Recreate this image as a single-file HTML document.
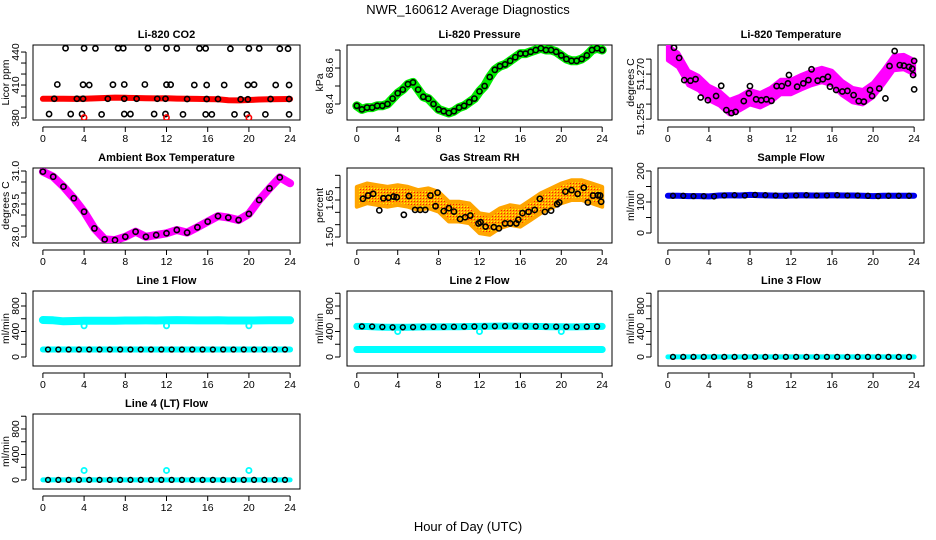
<!DOCTYPE html>
<html><head><meta charset="utf-8"><style>
body{margin:0;background:#fff}
svg{display:block;font-family:"Liberation Sans",sans-serif}
</style></head><body>
<svg id="chart" width="936" height="540" viewBox="0 0 936 540" xmlns="http://www.w3.org/2000/svg">
<defs>
<pattern id="rhpat" width="3" height="3" patternUnits="userSpaceOnUse"><rect width="3" height="3" fill="#ffa500"/><rect width="1" height="1" fill="#ff2000"/><rect x="2" y="2" width="1" height="1" fill="#ffff00"/></pattern>
</defs>
<text x="468" y="14" text-anchor="middle" font-size="13">NWR_160612  Average Diagnostics</text>
<text x="468" y="531" text-anchor="middle" font-size="13">Hour of Day (UTC)</text>
</svg>
<script>
const hours = [0,1,2,3,4,5,6,7,8,9,10,11,12,13,14,15,16,17,18,19,20,21,22,23,24];
const xTickLabels = ["0","4","8","12","16","20","24"];
// CO2
const co2Red = [397.5,397.6,397.5,397.4,397.6,397.8,398.2,398.6,398.4,398.2,398.0,397.8,397.9,397.7,397.5,397.4,397.2,397.0,396.2,396.0,396.4,396.8,397.0,397.2,397.3];
const co2BlackX = [2.2,4,5.1,7.3,7.8,10.2,12,13,15.2,15.8,18.2,20,21,23,23.8,1.4,3.9,4.5,6.8,7.9,9.9,12,12.4,14.7,15.9,17.6,19.9,20.5,22.6,23.9,1.1,3.3,3.9,6.3,7.9,9.1,11.1,11.9,14,15.9,17,19.2,19.9,22.1,23.9,0.6,2.7,3.8,5.7,7.9,8.5,10.8,11.9,13.6,15.8,16.4,18.6,19.8,21.6,23.9];
const co2BlackY = [443.5,443.5,443.3,443.5,443.5,443.5,443.5,443.3,443.3,443.3,443,443.3,443.3,443,443,410.5,410.3,410,410.3,410.5,410.5,410.3,410.3,410,410,410,410,410.3,410,410,397.5,397.5,397.5,397.5,397.5,397.5,397.5,397.5,397.3,397.3,397.3,397,397,397.3,397.3,383.6,383.6,383.6,383.3,383.6,383.6,383.6,383.6,383.3,383.3,383.3,383.3,383.3,383.3,383.3];
const co2RedX = [4,12,20];
const co2RedY = [380.5,380.5,380.3];
// Pressure
const presX = [0,0.5,1,1.5,2,2.5,3,3.5,4,4.5,5,5.5,6,6.5,7,7.5,8,8.5,9,9.5,10,10.5,11,11.5,12,12.5,13,13.5,14,14.5,15,15.5,16,16.5,17,17.5,18,18.5,19,19.5,20,20.5,21,21.5,22,22.5,23,23.5,24];
const presVals = [68.39,68.37,68.38,68.38,68.39,68.39,68.40,68.43,68.46,68.48,68.51,68.52,68.48,68.44,68.43,68.40,68.37,68.36,68.35,68.36,68.38,68.39,68.41,68.43,68.47,68.50,68.55,68.59,68.61,68.62,68.64,68.66,68.68,68.68,68.69,68.70,68.71,68.70,68.70,68.69,68.67,68.65,68.64,68.64,68.65,68.67,68.70,68.71,68.70];
// Li-820 temperature
const tempVals = [51.2770,51.2747,51.2687,51.2670,51.2637,51.2620,51.2590,51.2603,51.2623,51.2613,51.2630,51.2657,51.2657,51.2673,51.2687,51.2697,51.2687,51.2653,51.2630,51.2623,51.2647,51.2690,51.2737,51.2740,51.2723];
const tempBlackX = [0.6,1.1,1.6,2.2,2.7,3.2,3.9,4.7,5.2,5.7,6.2,6.6,7.4,7.9,8,8.6,9.1,9.6,10.1,10.6,11.1,11.7,11.8,12.6,13.2,13.7,14,14.6,15.1,15.6,15.8,16.4,17,17.5,18.1,18.6,19.1,19.7,19.9,20.6,21.2,21.6,22.1,22.6,23,23.5,23.8,23.9,24,24];
const tempBlackY = [51.2788,51.2754,51.2680,51.2678,51.2683,51.2622,51.2613,51.2627,51.2661,51.2580,51.2570,51.2574,51.2610,51.2636,51.2660,51.2616,51.2613,51.2616,51.2611,51.2660,51.2660,51.2669,51.2697,51.2658,51.2669,51.2680,51.2716,51.2678,51.2683,51.2691,51.2658,51.2647,51.2642,51.2644,51.2630,51.2610,51.2608,51.2647,51.2627,51.2652,51.2619,51.2727,51.2777,51.2730,51.2728,51.2724,51.2718,51.2697,51.2744,51.2649];
// Ambient box temperature
const boxVals = [30.97,30.74,30.29,29.76,29.15,28.39,27.89,27.86,28.01,28.24,28.01,28.09,28.17,28.32,28.20,28.44,28.70,28.95,28.88,28.77,29.05,29.68,30.21,30.71,30.44];
// RH
const rhVals = [1.663,1.677,1.670,1.663,1.670,1.663,1.650,1.657,1.643,1.603,1.603,1.596,1.556,1.549,1.576,1.589,1.582,1.609,1.637,1.657,1.677,1.690,1.690,1.677,1.663];
const rhBlackX = [0.6,1.1,1.6,2.2,2.6,3.1,3.6,3.9,4.6,5.1,5.7,6.2,6.7,7.2,7.7,7.9,8.5,9.0,9.5,10.1,10.6,11.1,11.9,12.1,12.6,13.4,13.9,14.5,15.0,15.6,15.8,16.2,16.8,17.4,17.9,18.4,19.0,19.6,19.8,20.4,21.0,21.6,22.2,22.6,23.1,23.6,23.8,23.9];
const rhBlackY = [1.655,1.668,1.675,1.608,1.657,1.659,1.664,1.661,1.590,1.666,1.610,1.610,1.610,1.668,1.625,1.680,1.605,1.617,1.603,1.573,1.580,1.587,1.555,1.560,1.542,1.540,1.535,1.555,1.555,1.555,1.570,1.597,1.602,1.610,1.655,1.602,1.607,1.633,1.640,1.684,1.690,1.675,1.700,1.640,1.668,1.669,1.668,1.643];
// Flows
const sampleVals = [120,120,119,119,118,121,122,121,123,122,121,120,121,122,121,121,122,121,121,120,119,120,120,120,120];
const line1Cyan = [580,575,560,565,570,568,570,570,572,573,574,572,576,578,576,574,574,575,573,572,572,574,575,575,575];
const line1Low = [118,118,118,118,118,118,118,118,118,118,118,118,118,118,118,118,118,118,118,118,118,118,118,118,118];
const line2Cyan = [480,478,470,466,466,468,470,472,472,474,476,478,480,482,484,484,482,480,478,476,474,472,476,478,480];
const line2Low = [118,118,118,118,118,118,118,118,118,118,118,118,118,118,118,118,118,118,118,118,118,118,118,118,118];
const line3Vals = [2,2,2,2,2,2,2,2,2,2,2,2,2,2,2,2,2,2,2,2,2,2,2,2,2];
const line4Vals = [2,2,2,2,2,2,2,2,2,2,2,2,2,2,2,2,2,2,2,2,2,2,2,2,2];
const dipX = [4,12,20];
const line1Dip = [490,490,490];
const line2Dip = [400,400,400];
const line4Dip = [150,150,150];

const NS = "http://www.w3.org/2000/svg";
const svg = document.getElementById('chart');
function mk(tag, attrs, parent){const e=document.createElementNS(NS,tag);for(const k in attrs)e.setAttribute(k,attrs[k]);(parent||svg).appendChild(e);return e;}

const colBox = [[33,300],[347,612],[658,924]];
const rowBox = [[45,120],[168,243],[291,366],[414,489]];

function panel(name, col, row, title, ytitle, ymin, ymax, ticks, labels){
  const g = mk('g',{});
  
  
  const [x0,x1]=colBox[col], [y0,y1]=rowBox[row];
  const sx = v => x0 + (v+0.96)/25.92*(x1-x0);
  const sy = v => y1 - (v-ymin)/(ymax-ymin)*(y1-y0);
  const box = mk('rect',{x:x0,y:y0,width:x1-x0,height:y1-y0,fill:'none',stroke:'#000','stroke-width':1},g);
  
  
  const t = mk('text',{x:(x0+x1)/2,y:y0-7,'text-anchor':'middle','font-size':11,'font-weight':'bold'},g);
  t.textContent = title;
  
  
  const xa = mk('g',{},g);
  
  
  mk('line',{x1:sx(0),x2:sx(24),y1:y1+7,y2:y1+7,stroke:'#000'},xa);
  xTickLabels.forEach(l=>{const v=+l;
    mk('line',{x1:sx(v),x2:sx(v),y1:y1+7,y2:y1+12,stroke:'#000'},xa);
    const tx=mk('text',{x:sx(v),y:y1+22,'text-anchor':'middle','font-size':10.5},xa);tx.textContent=l;});
  const ya = mk('g',{},g);
  
  
  mk('line',{x1:x0-7,x2:x0-7,y1:sy(ticks[0]),y2:sy(ticks[ticks.length-1]),stroke:'#000'},ya);
  ticks.forEach(v=>mk('line',{x1:x0-12,x2:x0-7,y1:sy(v),y2:sy(v),stroke:'#000'},ya));
  labels.forEach(l=>{const y=sy(+l);const tx=mk('text',{x:x0-17,y:y,'text-anchor':'middle','dominant-baseline':'central','font-size':10.5,transform:`rotate(-90 ${x0-17} ${y})`},ya);tx.textContent=l;});
  const yt=mk('text',{x:x0-27,y:(y0+y1)/2,'text-anchor':'middle','dominant-baseline':'central','font-size':10.5,transform:`rotate(-90 ${x0-27} ${(y0+y1)/2})`},ya);
  yt.textContent=ytitle;
  const clipId='c'+name;
  const cp=mk('clipPath',{id:clipId},g);mk('rect',{x:x0,y:y0,width:x1-x0,height:y1-y0},cp);
  const plot=mk('g',{'clip-path':`url(#${clipId})`},g);
  return {sx,sy,plot,name};
}
function band(p, xs, vals, color, w, nm){
  const d = xs.map((x,i)=>(i?'L':'M')+p.sx(x).toFixed(1)+','+p.sy(vals[i]).toFixed(1)).join('');
  const e=mk('path',{d:d,fill:'none',stroke:color,'stroke-width':w,'stroke-linejoin':'round','stroke-linecap':'round'},p.plot);
  
  
}
function spreadBand(p, xs, vals, spread, fill, nm){
  const top = xs.map((x,i)=>p.sx(x).toFixed(1)+','+p.sy(vals[i]+spread).toFixed(1));
  const bot = xs.map((x,i)=>p.sx(x).toFixed(1)+','+p.sy(vals[i]-spread).toFixed(1)).reverse();
  const e=mk('polygon',{points:top.concat(bot).join(' '),fill:fill,stroke:fill==='#ff00ff'?'#ff00ff':'#ffa500','stroke-width':4,'stroke-linejoin':'round'},p.plot);
  
  
}
function pts(p, xs, ys, color, r, sw, nm){
  const g=mk('g',{},p.plot);
  
  
  xs.forEach((x,i)=>{const c=mk('circle',{cx:p.sx(x),cy:p.sy(ys[i]),r:r,fill:'none',stroke:color,'stroke-width':sw},g);
    
    });
}
const halfX = hours.slice(0,24).map(h=>h+0.5);
const sub = a => a.slice(0,24);

// 1 CO2
let p=panel('co2-panel',0,0,'Li-820 CO2','Licor ppm',378.2,446.4,[380,390,400,410,420,430,440],['380','410','440']);
band(p,hours,co2Red,'#ff0000',6,'co2-red-series');
pts(p,co2BlackX,co2BlackY,'#000',2.6,1.6,'co2-black-series');
pts(p,co2RedX,co2RedY,'#ff0000',2.6,1.6,'co2-red-low');
// 2 Pressure
p=panel('pressure-panel',1,0,'Li-820 Pressure','kPa',68.311,68.728,[68.4,68.5,68.6,68.7],['68.4','68.6']);
band(p,presX,presVals,'#00ee00',9,'pressure-green-series');
pts(p,presX,presVals,'#000',2.6,1.6,'pressure-black-series');
// 3 Temperature
p=panel('temperature-panel',2,0,'Li-820 Temperature','degrees C',51.2547,51.2797,[51.255,51.260,51.265,51.270,51.275],['51.255','51.270']);
spreadBand(p,hours,tempVals,0.0024,'#ff00ff','temperature-magenta-series');
pts(p,tempBlackX,tempBlackY,'#000',2.6,1.6,'temperature-black-series');
// 4 Ambient box temp
p=panel('box-temp-panel',0,1,'Ambient Box Temperature','degrees C',27.727,31.136,[28,28.5,29,29.5,30,30.5,31],['28.0','29.5','31.0']);
band(p,hours,boxVals,'#ff00ff',8,'box-temp-magenta-series');
pts(p,halfX.map(x=>x-0.5),sub(boxVals),'#000',2.6,1.6,'box-temp-black-series');
// 5 RH
p=panel('rh-panel',1,1,'Gas Stream RH','percent',1.4757,1.7797,[1.5,1.55,1.6,1.65,1.7,1.75],['1.50','1.65']);
spreadBand(p,hours,rhVals,0.04,'url(#rhpat)','rh-orange-series');
pts(p,rhBlackX,rhBlackY,'#000',2.6,1.6,'rh-black-series');
// 6 Sample flow
p=panel('sample-flow-panel',2,1,'Sample Flow','ml/min',-32.3,209.7,[0,50,100,150,200],['0','100','200']);
band(p,hours,sampleVals,'#0000ee',6,'sample-flow-blue-series');
pts(p,halfX,sub(sampleVals),'#000',2.4,1.5,'sample-flow-black-series');
const fT=[0,200,400,600,800,1000], fL=['0','400','800'];
// 7 Line 1
p=panel('line1-flow-panel',0,2,'Line 1 Flow','ml/min',-141,1035,fT,fL);
band(p,hours,line1Cyan,'#00ffff',8,'line1-cyan-high');
band(p,hours,line1Low,'#00ffff',6,'line1-cyan-low');
pts(p,halfX,sub(line1Low),'#000',2.4,1.5,'line1-black-series');
pts(p,dipX,line1Dip,'#00ffff',2.6,1.8,'line1-dips');
// 8 Line 2
p=panel('line2-flow-panel',1,2,'Line 2 Flow','ml/min',-141,1035,fT,fL);
band(p,hours,line2Cyan,'#00ffff',7,'line2-cyan-high');
band(p,hours,line2Low,'#00ffff',7,'line2-cyan-low');
pts(p,halfX,sub(line2Cyan),'#000',2.4,1.5,'line2-black-series');
pts(p,dipX,line2Dip,'#00ffff',2.6,1.8,'line2-dips');
// 9 Line 3
p=panel('line3-flow-panel',2,2,'Line 3 Flow','ml/min',-141,1035,fT,fL);
band(p,hours,line3Vals,'#00ffff',5,'line3-cyan-series');
pts(p,halfX,sub(line3Vals),'#000',2.4,1.5,'line3-black-series');
// 10 Line 4
p=panel('line4-flow-panel',0,3,'Line 4 (LT) Flow','ml/min',-141,1035,fT,fL);
band(p,hours,line4Vals,'#00ffff',5,'line4-cyan-series');
pts(p,halfX,sub(line4Vals),'#000',2.4,1.5,'line4-black-series');
pts(p,dipX,line4Dip,'#00ffff',2.6,1.8,'line4-spikes');
</script>
</body></html>
